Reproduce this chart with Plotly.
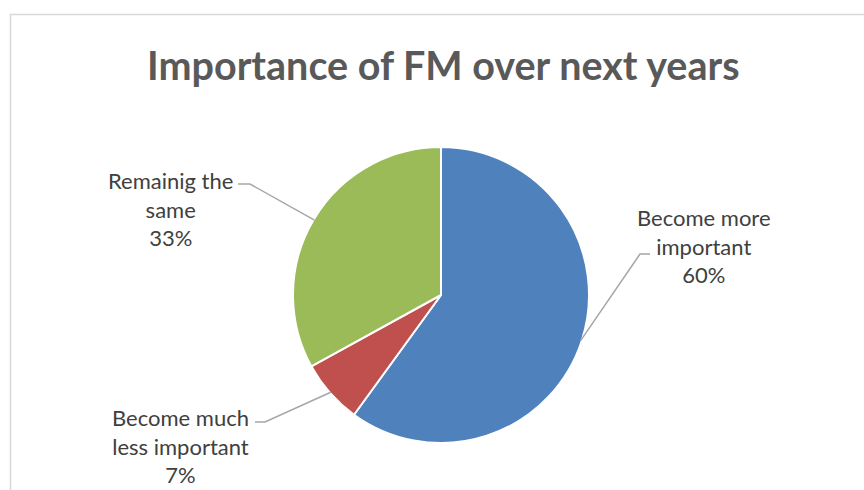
import math
import plotly.graph_objects as go

# ---- data ----
labels = ["Become more important", "Become much less important", "Remainig the same"]
label_lines = ["Become more<br>important", "Become much<br>less important", "Remainig the<br>same"]
values = [60, 7, 33]
colors = ["#4F81BD", "#C0504D", "#9BBB59"]
title_text = "Importance of FM over next years"

# ---- layout constants (pixels) ----
W, H = 864, 490
CX, CY, R = 441, 295, 148
label_centers = [(704, 246), (180, 446), (170, 209)]
label_ends = [(650, 254), (255, 422), (238, 184)]
elbows = [(640, 254), (265, 422), (250, 184)]

def px(x):
    return x / W

def py(y):
    return 1 - y / H

fig = go.Figure(go.Pie(
    labels=labels,
    values=values,
    sort=False,
    direction="clockwise",
    rotation=0,
    marker=dict(colors=colors, line=dict(color="white", width=2)),
    textinfo="none",
    hoverinfo="label+percent",
    showlegend=False,
    domain=dict(x=[px(CX - R), px(CX + R)], y=[py(CY + R), py(CY - R)]),
))

total = sum(values)
cum = 0
shapes = []
annotations = []
for i, v in enumerate(values):
    mid = (cum + v / 2) / total * 2 * math.pi
    cum += v
    ax = CX + (R - 1) * math.sin(mid)
    ay = CY - (R - 1) * math.cos(mid)
    ex, ey = elbows[i]
    sx, sy = label_ends[i]
    shapes.append(dict(
        type="path", xref="paper", yref="paper",
        path=f"M {px(sx)},{py(sy)} L {px(ex)},{py(ey)} L {px(ax)},{py(ay)}",
        line=dict(color="#A6A6A6", width=1.5),
    ))
    pct = round(v / total * 100)
    lx, ly = label_centers[i]
    annotations.append(dict(
        x=px(lx), y=py(ly), xref="paper", yref="paper",
        text=f"{label_lines[i]}<br>{pct}%",
        showarrow=False, align="center",
        xanchor="center", yanchor="middle",
        font=dict(family="Lato", size=22, color="#404040"),
    ))

# chart frame
shapes.append(dict(
    type="rect", xref="paper", yref="paper",
    x0=px(10.5), x1=1.2, y0=-0.2, y1=py(14.5),
    line=dict(color="#D9D9D9", width=1.5), fillcolor="rgba(0,0,0,0)",
    layer="below",
))

annotations.append(dict(
    x=px(443), y=py(64), xref="paper", yref="paper",
    text=f"<b>{title_text}</b>", showarrow=False,
    xanchor="center", yanchor="middle",
    font=dict(family="Lato", size=39.5, color="#595959"),
))

fig.update_layout(
    width=W, height=H,
    margin=dict(l=0, r=0, t=0, b=0),
    paper_bgcolor="white",
    plot_bgcolor="white",
    shapes=shapes,
    annotations=annotations,
)

fig.write_html(
    "out.html",
    config={"displayModeBar": False},
    post_script="document.body.style.margin='0px';document.body.style.overflow='hidden';",
)
